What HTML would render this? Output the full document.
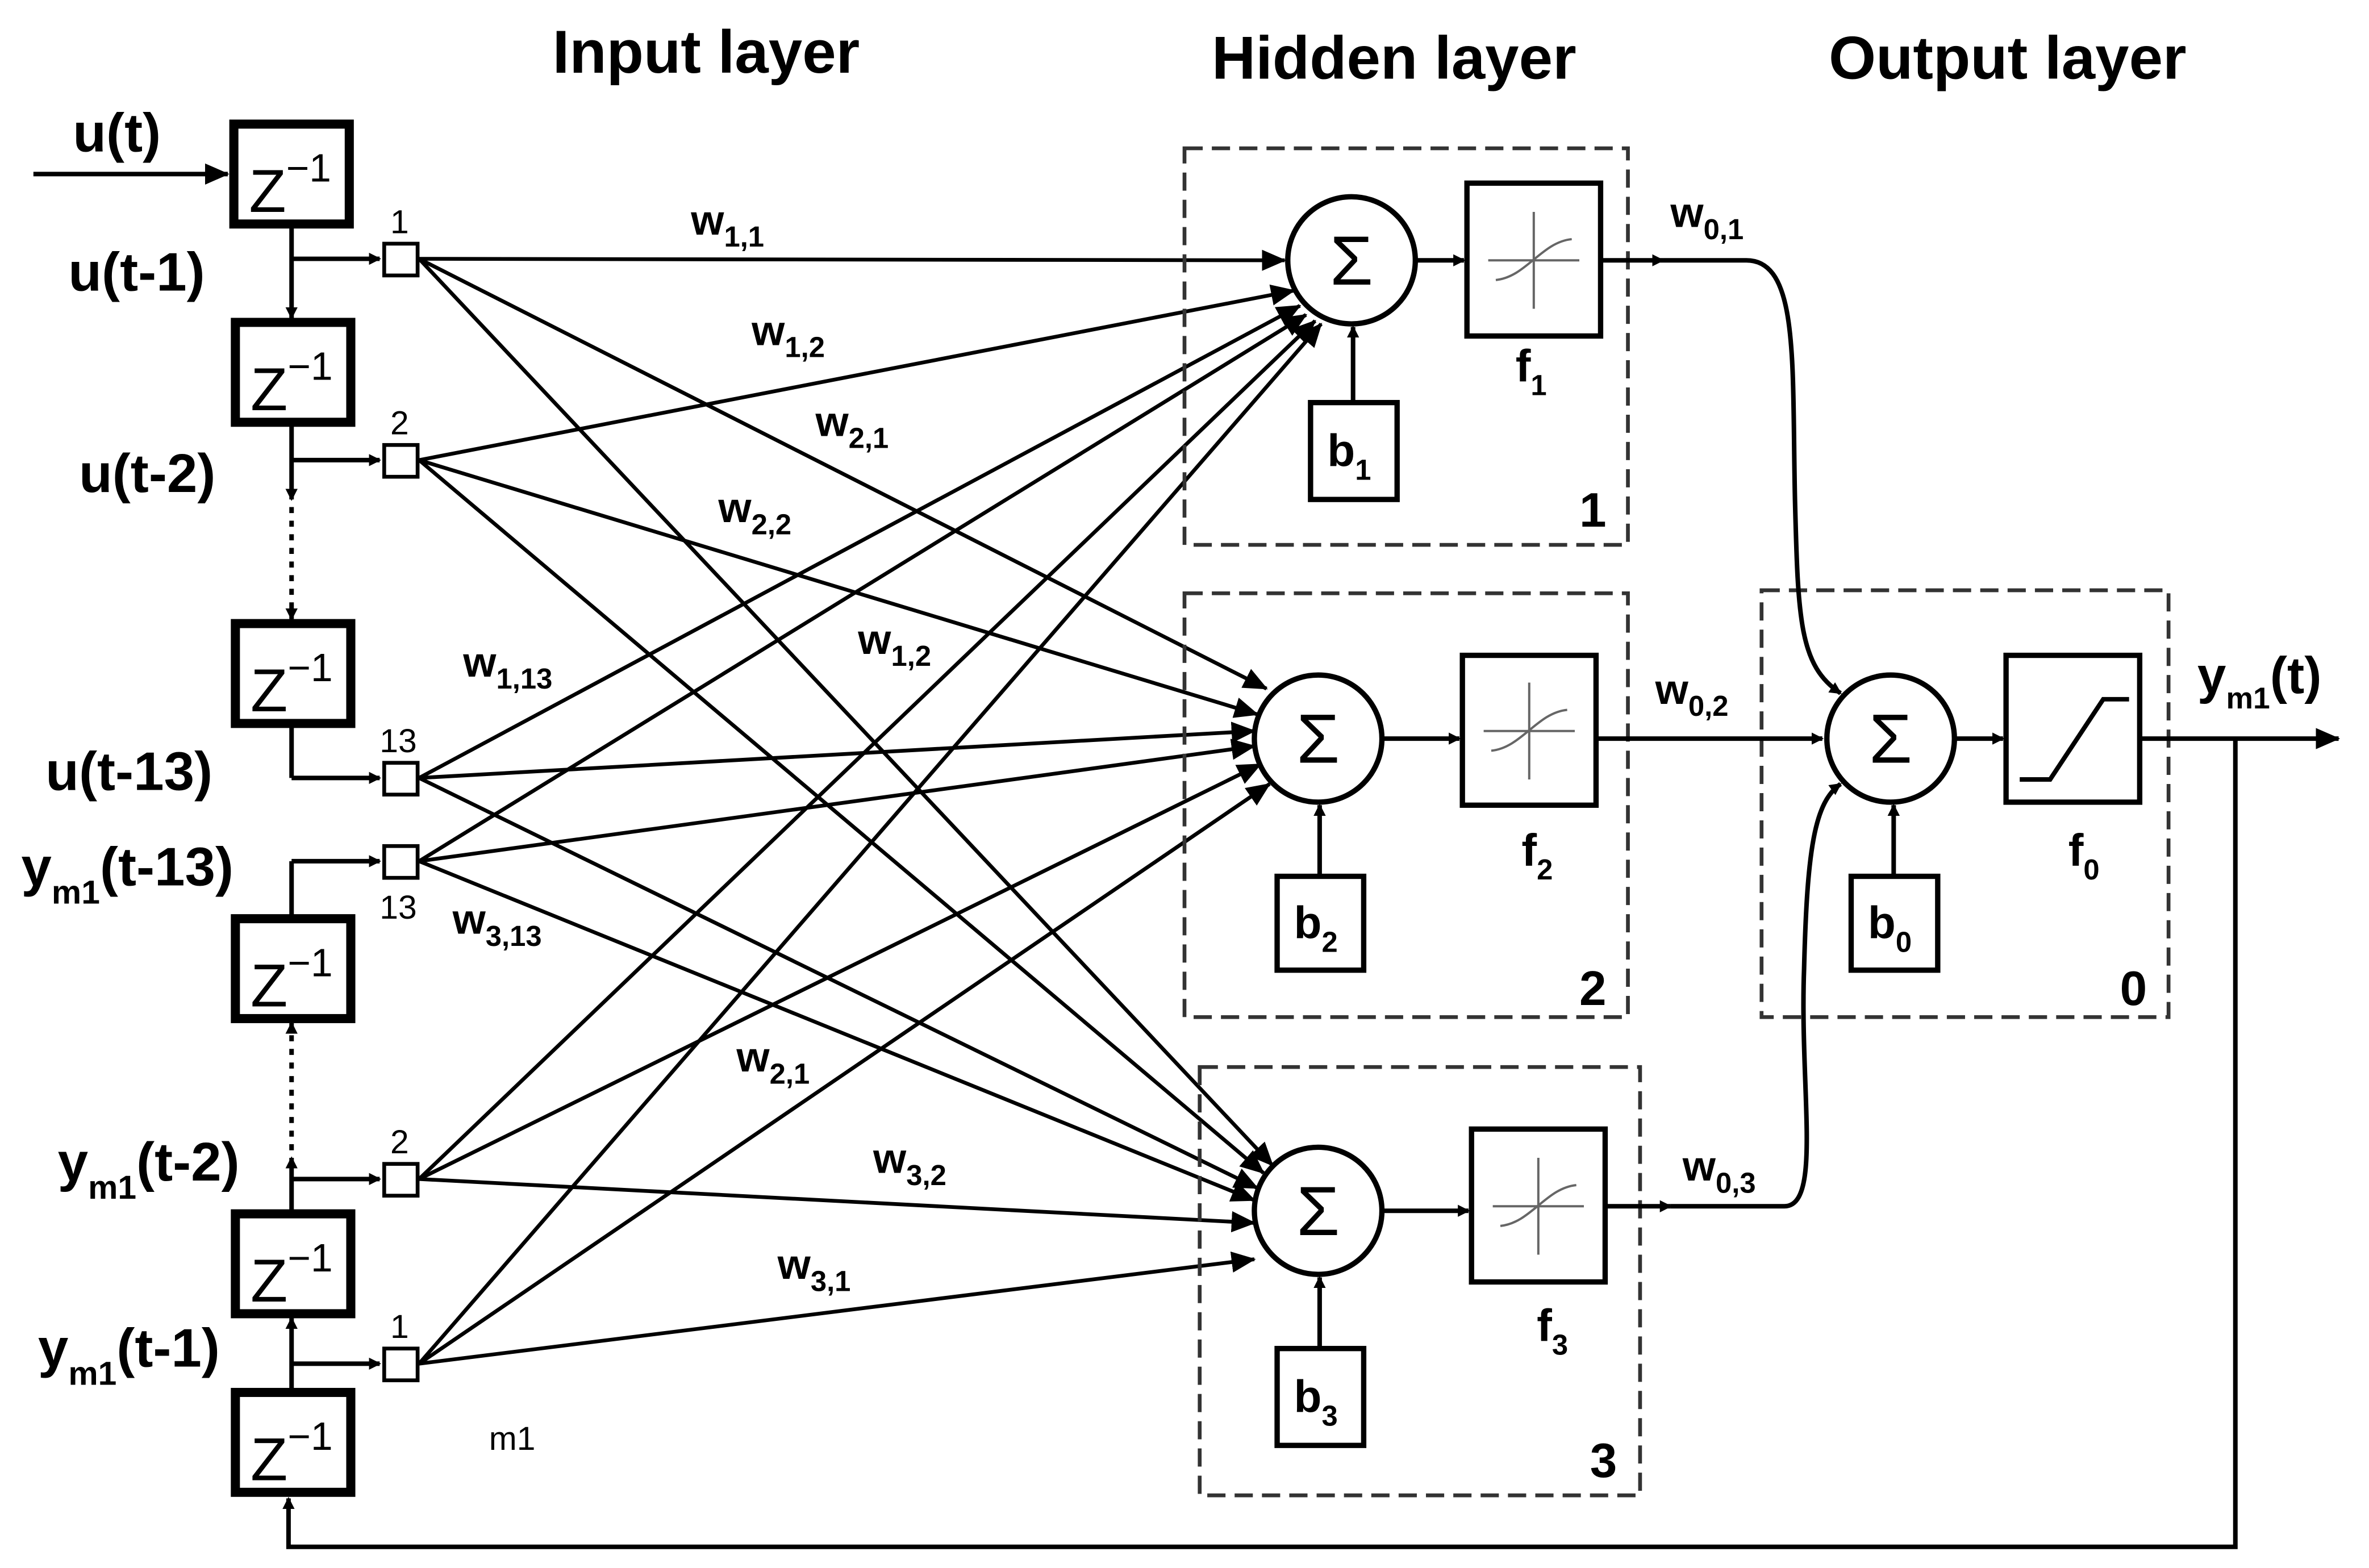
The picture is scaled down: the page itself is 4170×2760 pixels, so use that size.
<!DOCTYPE html>
<html><head><meta charset="utf-8"><style>
html,body{margin:0;padding:0;background:#fff;}
svg{display:block;}
text{font-family:"Liberation Sans",Arial,sans-serif;font-weight:bold;fill:#000;}
</style></head><body>
<svg width="4170" height="2760" viewBox="0 0 1560 1036" preserveAspectRatio="none" xmlns="http://www.w3.org/2000/svg">
<defs>
<marker id="a" markerWidth="8" markerHeight="8" refX="7" refY="4" orient="auto" markerUnits="userSpaceOnUse" viewBox="0 0 8 8"><path d="M0,0 L8,4 L0,8 z" fill="#000"/></marker>
<marker id="b" markerWidth="16" markerHeight="14" refX="15" refY="7" orient="auto" markerUnits="userSpaceOnUse" viewBox="0 0 16 14"><path d="M0,0 L16,7 L0,14 z" fill="#000"/></marker>
</defs>
<rect width="1560" height="1036" fill="#fff"/>
<text x="465" y="48" font-size="40" text-anchor="middle">Input layer</text>
<text x="918" y="52" font-size="40" text-anchor="middle">Hidden layer</text>
<text x="1322" y="52" font-size="40" text-anchor="middle">Output layer</text>

<line x1="22" y1="115" x2="150" y2="115" stroke="#000" stroke-width="3" marker-end="url(#b)"/>
<text x="48" y="100" font-size="36">u(t)</text>
<text x="45" y="192" font-size="36">u(t-1)</text>
<text x="52" y="325" font-size="36">u(t-2)</text>
<text x="30" y="522" font-size="36">u(t-13)</text>
<text x="14" y="585" font-size="36">y<tspan font-size="22" dy="12">m1</tspan><tspan dy="-12">(t-13)</tspan></text>
<text x="38" y="780" font-size="36">y<tspan font-size="22" dy="12">m1</tspan><tspan dy="-12">(t-2)</tspan></text>
<text x="25" y="903" font-size="36">y<tspan font-size="22" dy="12">m1</tspan><tspan dy="-12">(t-1)</tspan></text>

<g fill="#fff" stroke="#000" stroke-width="6">
<rect x="154" y="82" width="76" height="66"/>
<rect x="155" y="213" width="76" height="66"/>
<rect x="155" y="412" width="76" height="66"/>
<rect x="155" y="607" width="76" height="66"/>
<rect x="155" y="802" width="76" height="66"/>
<rect x="155" y="920" width="76" height="66"/>
</g>
<g>
<text x="164" y="140" font-size="40" style="font-weight:500">Z<tspan font-size="26" dy="-20">−1</tspan></text>
<text x="165" y="271" font-size="40" style="font-weight:500">Z<tspan font-size="26" dy="-20">−1</tspan></text>
<text x="165" y="470" font-size="40" style="font-weight:500">Z<tspan font-size="26" dy="-20">−1</tspan></text>
<text x="165" y="665" font-size="40" style="font-weight:500">Z<tspan font-size="26" dy="-20">−1</tspan></text>
<text x="165" y="860" font-size="40" style="font-weight:500">Z<tspan font-size="26" dy="-20">−1</tspan></text>
<text x="165" y="978" font-size="40" style="font-weight:500">Z<tspan font-size="26" dy="-20">−1</tspan></text>
</g>
<g stroke="#000" stroke-width="3" fill="none">
<line x1="192" y1="148" x2="192" y2="210" marker-end="url(#a)"/>
<line x1="192" y1="279" x2="192" y2="330" marker-end="url(#a)"/>
<line x1="192" y1="335" x2="192" y2="409" stroke-dasharray="4,5" marker-end="url(#a)"/>
<line x1="192" y1="478" x2="192" y2="514"/>
<line x1="192" y1="514" x2="250" y2="514" marker-end="url(#a)"/>
<line x1="192" y1="569" x2="192" y2="607"/>
<line x1="192" y1="569" x2="250" y2="569" marker-end="url(#a)"/>
<line x1="192" y1="760" x2="192" y2="676" stroke-dasharray="4,5" marker-end="url(#a)"/>
<line x1="192" y1="802" x2="192" y2="765" marker-end="url(#a)"/>
<line x1="192" y1="920" x2="192" y2="871" marker-end="url(#a)"/>
<line x1="192" y1="779" x2="250" y2="779" marker-end="url(#a)"/>
<line x1="192" y1="901" x2="250" y2="901" marker-end="url(#a)"/>
<line x1="192" y1="171" x2="250" y2="171" marker-end="url(#a)"/>
<line x1="192" y1="304" x2="250" y2="304" marker-end="url(#a)"/>
<polyline points="1472,488 1472,1022 190,1022 190,990" marker-end="url(#a)"/>
</g>
<g fill="#fff" stroke="#000" stroke-width="2.5">
<rect x="253" y="161" width="22" height="21"/>
<rect x="253" y="294" width="22" height="21"/>
<rect x="253" y="504" width="22" height="21"/>
<rect x="253" y="559" width="22" height="21"/>
<rect x="253" y="769" width="22" height="21"/>
<rect x="253" y="891" width="22" height="21"/>
</g>
<g font-size="22">
<text x="257" y="154" style="font-weight:normal">1</text>
<text x="257" y="287" style="font-weight:normal">2</text>
<text x="250" y="497" style="font-weight:normal">13</text>
<text x="250" y="607" style="font-weight:normal">13</text>
<text x="257" y="762" style="font-weight:normal">2</text>
<text x="257" y="884" style="font-weight:normal">1</text>
<text x="322" y="958" style="font-weight:normal">m1</text>
</g>
<g stroke="#000" stroke-width="2.5" fill="none">
<line x1="276" y1="171" x2="846" y2="172" marker-end="url(#b)"/>
<line x1="276" y1="171" x2="834" y2="455" marker-end="url(#b)"/>
<line x1="276" y1="171" x2="838" y2="770" marker-end="url(#b)"/>
<line x1="276" y1="304" x2="852" y2="192" marker-end="url(#b)"/>
<line x1="276" y1="304" x2="828" y2="472" marker-end="url(#b)"/>
<line x1="276" y1="304" x2="832" y2="775" marker-end="url(#b)"/>
<line x1="276" y1="514" x2="856" y2="202" marker-end="url(#b)"/>
<line x1="276" y1="514" x2="826" y2="483" marker-end="url(#b)"/>
<line x1="276" y1="514" x2="828" y2="785" marker-end="url(#b)"/>
<line x1="276" y1="569" x2="860" y2="208" marker-end="url(#b)"/>
<line x1="276" y1="569" x2="826" y2="493" marker-end="url(#b)"/>
<line x1="276" y1="569" x2="826" y2="793" marker-end="url(#b)"/>
<line x1="276" y1="779" x2="866" y2="212" marker-end="url(#b)"/>
<line x1="276" y1="779" x2="830" y2="505" marker-end="url(#b)"/>
<line x1="276" y1="779" x2="826" y2="808" marker-end="url(#b)"/>
<line x1="276" y1="901" x2="870" y2="214" marker-end="url(#b)"/>
<line x1="276" y1="901" x2="836" y2="518" marker-end="url(#b)"/>
<line x1="276" y1="901" x2="826" y2="832" marker-end="url(#b)"/>
</g>
<g font-size="28">
<text x="455" y="155">w<tspan font-size="19" dy="8">1,1</tspan></text>
<text x="495" y="228">w<tspan font-size="19" dy="8">1,2</tspan></text>
<text x="537" y="288">w<tspan font-size="19" dy="8">2,1</tspan></text>
<text x="473" y="345">w<tspan font-size="19" dy="8">2,2</tspan></text>
<text x="565" y="432">w<tspan font-size="19" dy="8">1,2</tspan></text>
<text x="305" y="447">w<tspan font-size="19" dy="8">1,13</tspan></text>
<text x="298" y="617">w<tspan font-size="19" dy="8">3,13</tspan></text>
<text x="485" y="708">w<tspan font-size="19" dy="8">2,1</tspan></text>
<text x="575" y="775">w<tspan font-size="19" dy="8">3,2</tspan></text>
<text x="512" y="845">w<tspan font-size="19" dy="8">3,1</tspan></text>
<text x="1100" y="150">w<tspan font-size="19" dy="8">0,1</tspan></text>
<text x="1090" y="465">w<tspan font-size="19" dy="8">0,2</tspan></text>
<text x="1108" y="780">w<tspan font-size="19" dy="8">0,3</tspan></text>
</g>
<g fill="none" stroke="#333" stroke-width="2.5" stroke-dasharray="12,6">
<rect x="780" y="98" width="292" height="262"/>
<rect x="780" y="392" width="292" height="280"/>
<rect x="790" y="705" width="290" height="283"/>
<rect x="1160" y="390" width="268" height="282"/>
</g>
<text x="1040" y="348" font-size="32">1</text>
<text x="1040" y="664" font-size="32">2</text>
<text x="1047" y="976" font-size="32">3</text>
<text x="1396" y="664" font-size="32">0</text>
<g stroke="#000" stroke-width="3.5" fill="#fff">
<circle cx="890" cy="172" r="42"/>
<circle cx="868" cy="488" r="42"/>
<circle cx="868" cy="800" r="42"/>
<circle cx="1245" cy="488" r="42"/>
<rect x="966" y="121" width="88" height="101"/>
<rect x="963" y="433" width="88" height="99"/>
<rect x="969" y="746" width="88" height="101"/>
<rect x="1321" y="433" width="88" height="97"/>
<rect x="863" y="266" width="57" height="64"/>
<rect x="841" y="579" width="57" height="62"/>
<rect x="841" y="891" width="57" height="64"/>
<rect x="1219" y="579" width="57" height="62"/>
</g>
<g font-size="46" text-anchor="middle">
<text x="890" y="188" style="font-weight:normal">Σ</text>
<text x="868" y="504" style="font-weight:normal">Σ</text>
<text x="868" y="816" style="font-weight:normal">Σ</text>
<text x="1245" y="504" style="font-weight:normal">Σ</text>
</g>
<g font-size="30">
<text x="874" y="308">b<tspan font-size="19" dy="9">1</tspan></text>
<text x="852" y="620">b<tspan font-size="19" dy="9">2</tspan></text>
<text x="852" y="933">b<tspan font-size="19" dy="9">3</tspan></text>
<text x="1230" y="620">b<tspan font-size="19" dy="9">0</tspan></text>
<text x="998" y="252">f<tspan font-size="19" dy="9">1</tspan></text>
<text x="1002" y="572">f<tspan font-size="19" dy="9">2</tspan></text>
<text x="1012" y="886">f<tspan font-size="19" dy="9">3</tspan></text>
<text x="1362" y="572">f<tspan font-size="19" dy="9">0</tspan></text>
<text x="1447" y="458" font-size="34">y<tspan font-size="20" dy="10">m1</tspan><tspan dy="-10">(t)</tspan></text>
</g>
<g stroke="#666" stroke-width="1.5" fill="none">
<line x1="980" y1="172" x2="1040" y2="172"/><line x1="1010" y1="140" x2="1010" y2="204"/>
<path d="M985,185 C1005,183 1015,160 1035,158"/>
<line x1="977" y1="483" x2="1037" y2="483"/><line x1="1007" y1="451" x2="1007" y2="515"/>
<path d="M982,496 C1002,494 1012,471 1032,469"/>
<line x1="983" y1="797" x2="1043" y2="797"/><line x1="1013" y1="765" x2="1013" y2="829"/>
<path d="M988,810 C1008,808 1018,785 1038,783"/>
</g>
<path d="M1330,515 L1350,515 L1385,462 L1402,462" stroke="#000" stroke-width="3" fill="none"/>
<g stroke="#000" stroke-width="3" fill="none">
<line x1="932" y1="172" x2="964" y2="172" marker-end="url(#a)"/>
<line x1="910" y1="488" x2="961" y2="488" marker-end="url(#a)"/>
<line x1="910" y1="800" x2="967" y2="800" marker-end="url(#a)"/>
<line x1="1287" y1="488" x2="1319" y2="488" marker-end="url(#a)"/>
<line x1="891" y1="266" x2="891" y2="216" marker-end="url(#a)"/>
<line x1="869" y1="579" x2="869" y2="532" marker-end="url(#a)"/>
<line x1="869" y1="891" x2="869" y2="844" marker-end="url(#a)"/>
<line x1="1247" y1="579" x2="1247" y2="532" marker-end="url(#a)"/>
<line x1="1054" y1="172" x2="1095" y2="172" marker-end="url(#a)"/>
<path d="M1095,172 L1150,172 C1185,172 1180,240 1182,330 C1184,410 1185,440 1212,458" marker-end="url(#a)"/>
<line x1="1051" y1="488" x2="1200" y2="488" marker-end="url(#a)"/>
<line x1="1057" y1="797" x2="1100" y2="797" marker-end="url(#a)"/>
<path d="M1100,797 L1175,797 C1200,797 1185,720 1188,640 C1190,560 1195,530 1212,518" marker-end="url(#a)"/>
<line x1="1409" y1="488" x2="1540" y2="488" marker-end="url(#b)"/>
</g>
</svg>
</body></html>
